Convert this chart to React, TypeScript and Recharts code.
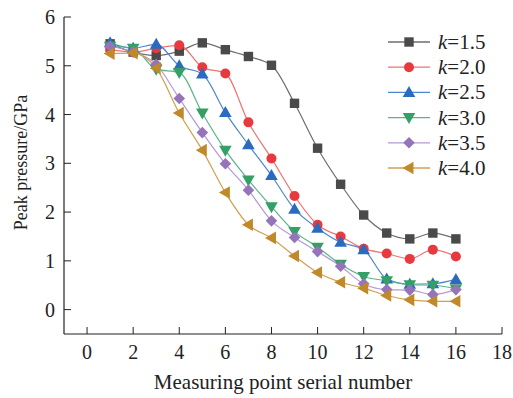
import React from 'react';
import { LineChart, Line, XAxis, YAxis } from 'recharts';

const points = [1, 2, 3, 4, 5, 6, 7, 8, 9, 10, 11, 12, 13, 14, 15, 16];
const k15 = [5.45, 5.28, 5.21, 5.3, 5.47, 5.33, 5.19, 5.01, 4.23, 3.31, 2.57, 1.94, 1.57, 1.45, 1.57, 1.45];
const k20 = [5.33, 5.28, 5.36, 5.42, 4.97, 4.84, 3.84, 3.1, 2.33, 1.74, 1.5, 1.25, 1.15, 1.04, 1.23, 1.09];
const k25 = [5.47, 5.36, 5.44, 5.0, 4.83, 4.04, 3.38, 2.75, 2.06, 1.67, 1.38, 1.23, 0.63, 0.52, 0.53, 0.62];
const k30 = [5.4, 5.36, 4.93, 4.86, 4.03, 3.27, 2.66, 2.11, 1.6, 1.28, 0.93, 0.68, 0.59, 0.51, 0.5, 0.43];
const k35 = [5.4, 5.28, 5.03, 4.33, 3.63, 2.99, 2.45, 1.82, 1.48, 1.19, 0.89, 0.53, 0.41, 0.4, 0.31, 0.41];
const k40 = [5.25, 5.26, 4.95, 4.03, 3.27, 2.4, 1.74, 1.47, 1.1, 0.76, 0.56, 0.44, 0.29, 0.2, 0.17, 0.17];

const xTicks = [0, 2, 4, 6, 8, 10, 12, 14, 16, 18];
const yTicks = [0, 1, 2, 3, 4, 5, 6];

const seriesList = [
  { key: 'k15', label: '1.5', values: k15, line: '#6e6e6e', fill: '#4a4a4a', shape: 'square' },
  { key: 'k20', label: '2.0', values: k20, line: '#f07272', fill: '#e8393f', shape: 'circle' },
  { key: 'k25', label: '2.5', values: k25, line: '#4d86d0', fill: '#2a6bc0', shape: 'up' },
  { key: 'k30', label: '3.0', values: k30, line: '#5ab585', fill: '#34a065', shape: 'down' },
  { key: 'k35', label: '3.5', values: k35, line: '#b49ad6', fill: '#9574b9', shape: 'diamond' },
  { key: 'k40', label: '4.0', values: k40, line: '#d0a050', fill: '#c08a2a', shape: 'left' },
];

const data = points.map((p, i) => {
  const row: any = { x: p };
  seriesList.forEach((s) => {
    row[s.key] = s.values[i];
  });
  return row;
});

const FONT = 'Liberation Serif, DejaVu Serif, serif';
const tickStyle = { fontFamily: FONT, fontSize: 20, fill: '#222' } as const;

function Marker({ cx, cy, shape, fill }: { cx: number; cy: number; shape: string; fill: string }) {
  if (cx == null || cy == null) return null;
  switch (shape) {
    case 'square':
      return <rect x={cx - 4.7} y={cy - 4.7} width={9.4} height={9.4} fill={fill} />;
    case 'circle':
      return <circle cx={cx} cy={cy} r={5} fill={fill} />;
    case 'up':
      return <polygon points={`${cx},${cy - 6.5} ${cx - 6.3},${cy + 4.5} ${cx + 6.3},${cy + 4.5}`} fill={fill} />;
    case 'down':
      return <polygon points={`${cx},${cy + 6.5} ${cx - 6.3},${cy - 4.5} ${cx + 6.3},${cy - 4.5}`} fill={fill} />;
    case 'diamond':
      return <polygon points={`${cx},${cy - 5.8} ${cx + 5.8},${cy} ${cx},${cy + 5.8} ${cx - 5.8},${cy}`} fill={fill} />;
    case 'left':
      return <polygon points={`${cx - 6.5},${cy} ${cx + 4.5},${cy - 6.3} ${cx + 4.5},${cy + 6.3}`} fill={fill} />;
    default:
      return null;
  }
}

const XTick = (props: any) => {
  const { x, y, payload } = props;
  return (
    <g>
      <line x1={x} y1={y} x2={x} y2={y - 7} stroke="#222" strokeWidth={1} />
      <text x={x} y={y + 25} textAnchor="middle" style={tickStyle}>
        {payload.value}
      </text>
    </g>
  );
};

const YTick = (props: any) => {
  const { x, y, payload } = props;
  return (
    <g>
      <line x1={x} y1={y} x2={x + 7} y2={y} stroke="#222" strokeWidth={1} />
      <text x={x - 9} y={y + 7} textAnchor="end" style={tickStyle}>
        {payload.value}
      </text>
    </g>
  );
};

const YLabel = (props: any) => {
  const vb = props.viewBox || { x: 0, y: 17, width: 64, height: 317 };
  const cx = vb.x + 27;
  const cy = vb.y + vb.height / 2 - 13;
  return (
    <text
      x={cx}
      y={cy}
      transform={`rotate(-90, ${cx}, ${cy})`}
      textAnchor="middle"
      style={{ fontFamily: FONT, fontSize: 18, fill: '#222' }}
    >
      Peak pressure/GPa
    </text>
  );
};

const XLabel = (props: any) => {
  const vb = props.viewBox || { x: 64, y: 334, width: 438, height: 64 };
  return (
    <text
      x={vb.x + vb.width / 2}
      y={vb.y + 55}
      textAnchor="middle"
      style={{ fontFamily: FONT, fontSize: 21, fill: '#222' }}
    >
      Measuring point serial number
    </text>
  );
};

const LegendBox = () => (
  <svg width={120} height={160} style={{ position: 'absolute', left: 385, top: 30, overflow: 'visible' }}>
    {seriesList.map((s, i) => {
      const cy = 12 + i * 25.2;
      return (
        <g key={s.key}>
          <line x1={3} y1={cy} x2={45} y2={cy} stroke={s.line} strokeWidth={1.3} />
          <Marker cx={24} cy={cy} shape={s.shape} fill={s.fill} />
          <text x={53} y={cy + 7} style={{ fontFamily: FONT, fontSize: 21, fill: '#222' }}>
            <tspan fontStyle="italic">k</tspan>={s.label}
          </text>
        </g>
      );
    })}
  </svg>
);

export default function App() {
  return (
    <div style={{ position: 'absolute', left: 0, top: 0, width: 513, height: 398, background: '#fff' }}>
      <LineChart width={513} height={398} data={data} margin={{ top: 17, right: 11, bottom: 0, left: 0 }}>
        <XAxis
          dataKey="x"
          type="number"
          domain={[-1, 18]}
          ticks={xTicks}
          interval={0}
          height={64}
          tickSize={0}
          tickMargin={0}
          tickLine={false}
          axisLine={{ stroke: '#222', strokeWidth: 1.2 }}
          tick={<XTick />}
          label={<XLabel />}
        />
        <XAxis
          xAxisId="top"
          orientation="top"
          type="number"
          domain={[-1, 18]}
          height={0}
          tick={false}
          tickLine={false}
          axisLine={{ stroke: '#222', strokeWidth: 1.2 }}
        />
        <YAxis
          type="number"
          domain={[-0.5, 6]}
          ticks={yTicks}
          interval={0}
          width={64}
          tickSize={0}
          tickMargin={0}
          tickLine={false}
          axisLine={{ stroke: '#222', strokeWidth: 1.2 }}
          tick={<YTick />}
          label={<YLabel />}
        />
        <YAxis
          yAxisId="right"
          orientation="right"
          type="number"
          domain={[-0.5, 6]}
          width={0}
          tick={false}
          tickLine={false}
          axisLine={{ stroke: '#222', strokeWidth: 1.2 }}
        />
        {seriesList.map((s) => (
          <Line
            key={s.key}
            dataKey={s.key}
            type="monotone"
            stroke={s.line}
            strokeWidth={1.2}
            isAnimationActive={false}
            dot={(p: any) => <Marker key={`${s.key}-${p.index}`} cx={p.cx} cy={p.cy} shape={s.shape} fill={s.fill} />}
            activeDot={false}
          />
        ))}
      </LineChart>
      <LegendBox />
    </div>
  );
}
